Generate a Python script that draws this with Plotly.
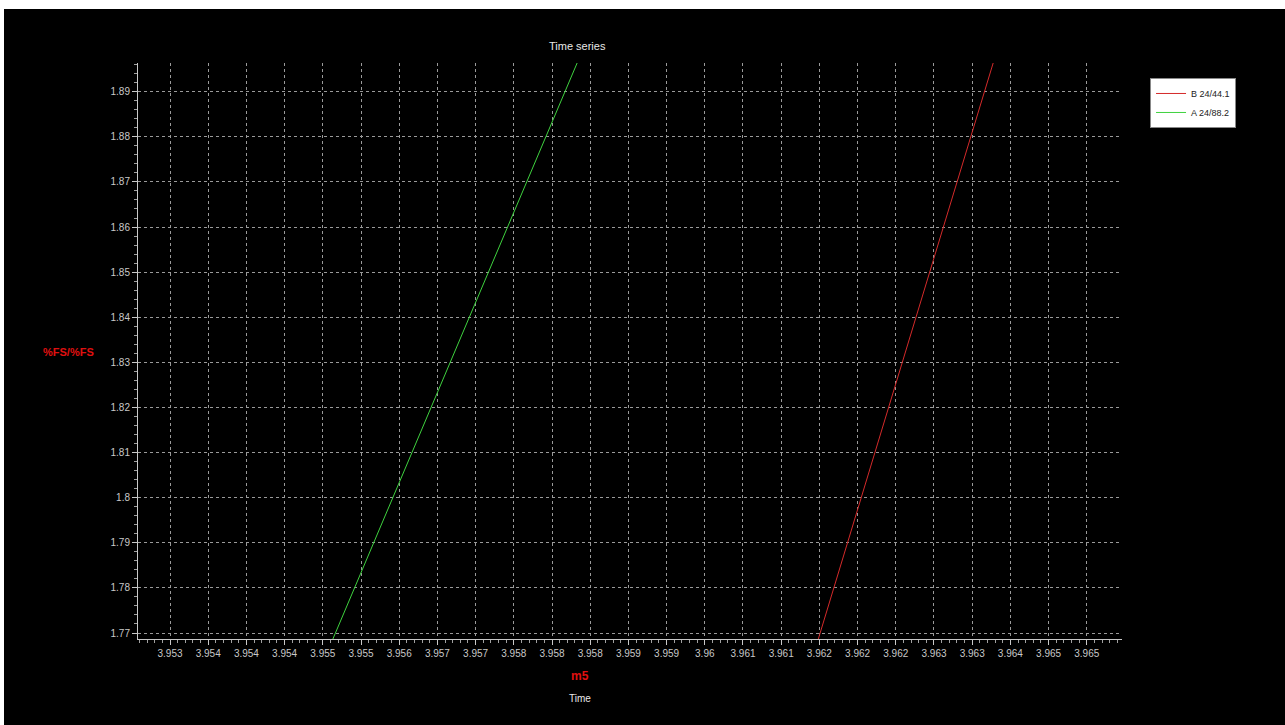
import plotly.graph_objects as go

# ---- data ----
x_tick_vals = [3.953 + 0.0005 * i for i in range(25)]
x_tick_text = ["3.953", "3.954", "3.954", "3.954", "3.955", "3.955", "3.956", "3.957",
               "3.957", "3.958", "3.958", "3.958", "3.959", "3.959", "3.96", "3.961",
               "3.961", "3.962", "3.962", "3.962", "3.963", "3.963", "3.964", "3.965",
               "3.965"]
y_tick_vals = [1.77, 1.78, 1.79, 1.80, 1.81, 1.82, 1.83, 1.84, 1.85, 1.86, 1.87, 1.88, 1.89]
y_tick_text = ["1.77", "1.78", "1.79", "1.8", "1.81", "1.82", "1.83", "1.84", "1.85",
               "1.86", "1.87", "1.88", "1.89"]

series_b_name = "B 24/44.1"
series_b_x = [3.96142, 3.96384]
series_b_y = [1.765, 1.900]

series_a_name = "A 24/88.2"
series_a_x = [3.95504, 3.95842]
series_a_y = [1.765, 1.900]

fig = go.Figure()
fig.add_trace(go.Scatter(x=series_b_x, y=series_b_y, mode="lines", name=series_b_name,
                         line=dict(color="#d42a2a", width=1)))
fig.add_trace(go.Scatter(x=series_a_x, y=series_a_y, mode="lines", name=series_a_name,
                         line=dict(color="#3fd23f", width=1)))

axis_font = dict(family="Liberation Sans, Arial, sans-serif", size=10, color="#c8c8c8")

fig.update_layout(
    width=1281, height=716,
    margin=dict(l=134, r=163, t=54, b=86),
    paper_bgcolor="black", plot_bgcolor="black",
    showlegend=True,
    legend=dict(x=1.0285, y=0.974, xanchor="left", yanchor="top",
                bgcolor="white", bordercolor="#888888", borderwidth=1,
                font=dict(family="Liberation Sans, Arial, sans-serif", size=9, color="#222222"),
                tracegroupgap=0, itemwidth=30),
    xaxis=dict(range=[3.952581, 3.965461], tickmode="array", tickvals=x_tick_vals,
               ticktext=x_tick_text, tickangle=0, tickfont=axis_font,
               showgrid=True, gridcolor="#9a9a9a", gridwidth=1, griddash="3px,3px",
               showline=True, linecolor="#c8c8c8", linewidth=1,
               ticks="outside", ticklen=5, tickcolor="#c8c8c8",
               minor=dict(dtick=0.0001, ticks="outside", ticklen=3, tickcolor="#a0a0a0",
                          showgrid=False),
               zeroline=False),
    yaxis=dict(range=[1.76867, 1.89636], tickmode="array", tickvals=y_tick_vals,
               ticktext=y_tick_text, tickfont=axis_font,
               showgrid=True, gridcolor="#9a9a9a", gridwidth=1, griddash="3px,3px",
               showline=True, linecolor="#c8c8c8", linewidth=1,
               ticks="outside", ticklen=5, tickcolor="#c8c8c8",
               minor=dict(dtick=0.002, ticks="outside", ticklen=3, tickcolor="#a0a0a0",
                          showgrid=False),
               zeroline=False),
    annotations=[
        dict(text="Time series", xref="paper", yref="paper", x=0.447, y=1.0295,
             showarrow=False, xanchor="center", yanchor="middle",
             font=dict(family="Liberation Sans, Arial, sans-serif", size=11, color="#e8e8e8")),
        dict(text="<b>m5</b>", xref="paper", yref="paper", x=0.449, y=-0.0642,
             showarrow=False, xanchor="center", yanchor="middle",
             font=dict(family="Liberation Sans, Arial, sans-serif", size=12, color="#e01010")),
        dict(text="Time", xref="paper", yref="paper", x=0.449, y=-0.104,
             showarrow=False, xanchor="center", yanchor="middle",
             font=dict(family="Liberation Sans, Arial, sans-serif", size=10, color="#e8e8e8")),
        dict(text="<b>%FS/%FS</b>", xref="paper", yref="paper", x=-0.0711, y=0.498,
             showarrow=False, xanchor="center", yanchor="middle",
             font=dict(family="Liberation Sans, Arial, sans-serif", size=11, color="#e01010")),
    ],
)

fig.write_html("out.html",
               post_script="document.body.style.margin='9px 0 0 4px';document.body.style.overflow='hidden';document.body.style.background='white';")
